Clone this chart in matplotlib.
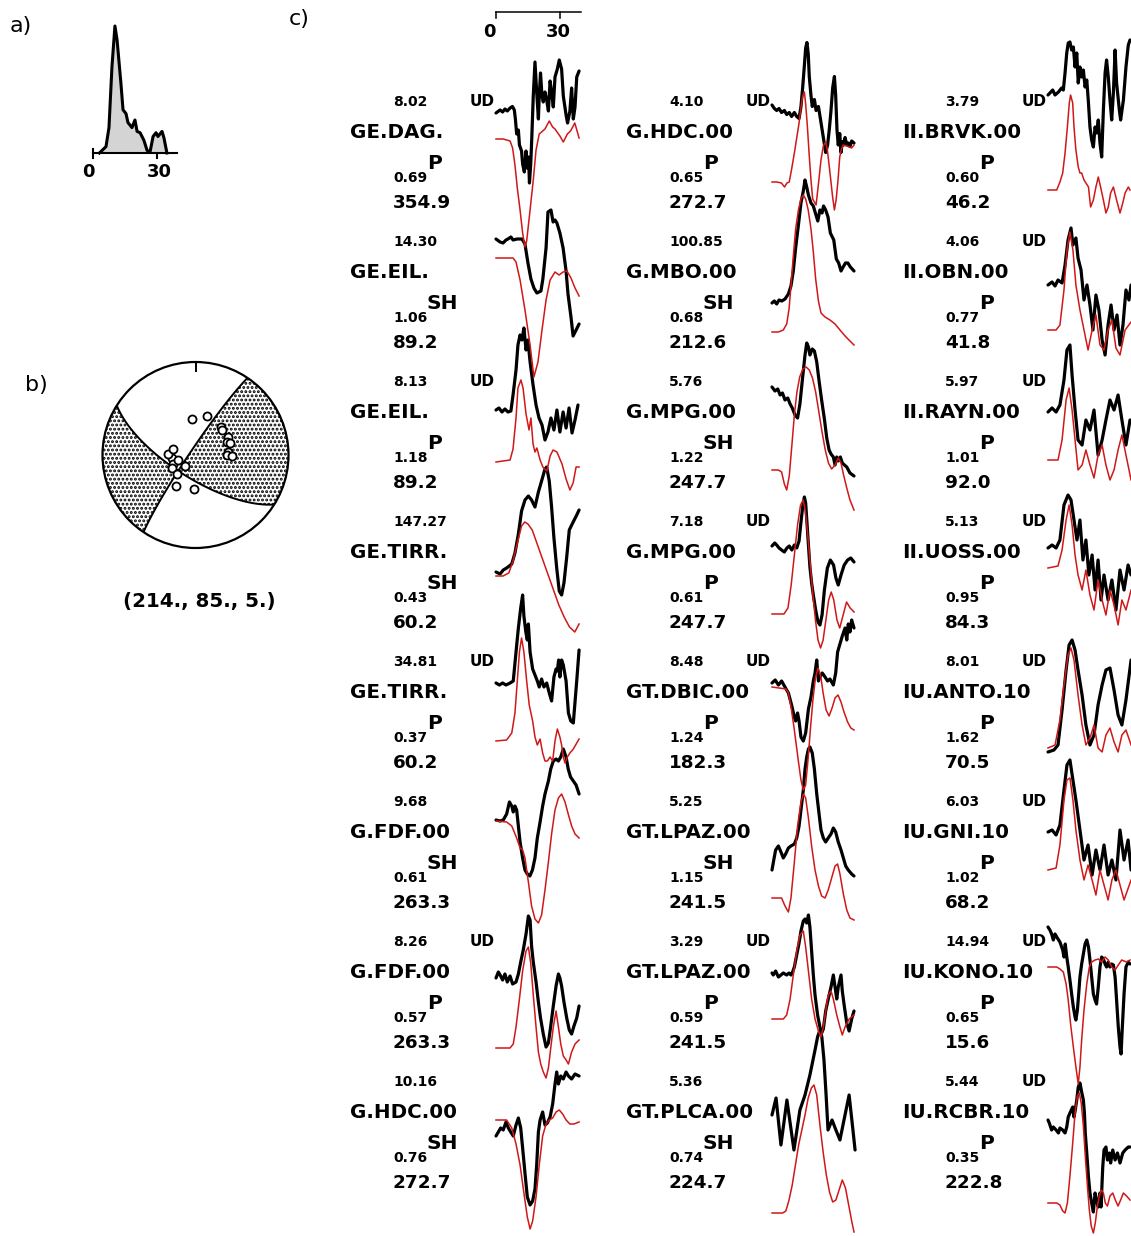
import numpy as np
import matplotlib.pyplot as plt
from matplotlib.patches import Circle

# ---------------- station table (panel c), column by column ----------------
stations = ["GE.DAG.", "GE.EIL.", "GE.EIL.", "GE.TIRR.", "GE.TIRR.", "G.FDF.00", "G.FDF.00", "G.HDC.00",
            "G.HDC.00", "G.MBO.00", "G.MPG.00", "G.MPG.00", "GT.DBIC.00", "GT.LPAZ.00", "GT.LPAZ.00", "GT.PLCA.00",
            "II.BRVK.00", "II.OBN.00", "II.RAYN.00", "II.UOSS.00", "IU.ANTO.10", "IU.GNI.10", "IU.KONO.10", "IU.RCBR.10"]
phases = ["P", "SH", "P", "SH", "P", "SH", "P", "SH",
          "P", "SH", "SH", "P", "P", "SH", "P", "SH",
          "P", "P", "P", "P", "P", "P", "P", "P"]
max_amp = ["8.02", "14.30", "8.13", "147.27", "34.81", "9.68", "8.26", "10.16",
           "4.10", "100.85", "5.76", "7.18", "8.48", "5.25", "3.29", "5.36",
           "3.79", "4.06", "5.97", "5.13", "8.01", "6.03", "14.94", "5.44"]
amp_ratio = ["0.69", "1.06", "1.18", "0.43", "0.37", "0.61", "0.57", "0.76",
             "0.65", "0.68", "1.22", "0.61", "1.24", "1.15", "0.59", "0.74",
             "0.60", "0.77", "1.01", "0.95", "1.62", "1.02", "0.65", "0.35"]
azimuth = ["354.9", "89.2", "89.2", "60.2", "60.2", "263.3", "263.3", "272.7",
           "272.7", "212.6", "247.7", "247.7", "182.3", "241.5", "241.5", "224.7",
           "46.2", "41.8", "92.0", "84.3", "70.5", "68.2", "15.6", "222.8"]

# observed (black) waveforms: time (s) and amplitude (display px, up positive)
obs_t = [
    [0,1.9,3.1,4.2,5.3,6.6,7.7,8.6,9.1,9.7,10.5,11,12,12.5,13.3,14.1,14.7,15.3,15.7,16.3,16.8,17.5,18.3,19.1,19.9,20.3,20.9,21.6,22.2,23,23.8,24.6,25.4,26.1,26.9,27.7,28.8,29.7,30.8,31.6,32.9,33.6,34.7,35.5,36.3,37.1,37.9,39],
    [0,1.9,3.3,4.7,5.6,7,8,9.9,12.2,13.6,15,16.4,17.8,19.2,21.1,22,23.5,24.4,25.8,26.8,27.7,28.6,30,31.5,32.9,33.8,35.2,36.2,37.6,39],
    [0,1.4,2.8,4.2,5.6,7,8,9.4,10.3,11.3,12.2,13.1,14.1,15,16,17.4,18.8,20.2,21.6,23,24.4,25.8,27.2,28.6,30,31.5,32.9,34.3,35.7,37.1,38.5],
    [0,1.9,3.4,5,7.4,8.9,10.5,12,13.6,15.2,16.7,18.3,19.9,21.4,23,23.8,25,26.1,27.2,28.5,29.7,30.8,31.9,33.2,34.4,36,37.9,39],
    [0,1.6,3.1,4.7,6.6,8.1,9.4,10.5,11.6,12.5,13.1,14,14.7,15.2,16,17.2,18.3,19.4,20.3,21.4,22.5,23.8,25,26.1,27.2,28.2,28.8,29.4,30,30.8,31.6,32.9,34,35.1,36.3,37.9,39],
    [0,1.9,3.4,5,6.3,7.4,8.1,8.9,9.7,10.5,11.3,12.5,13.6,14.7,15.9,17.1,18.3,19.4,20.7,21.9,23,24.6,25.7,26.9,28.2,29.3,30.4,31.6,32.9,33.9,35,36.3,37.6,39],
    [0,1.1,2.2,3.1,4.2,5.3,6.6,7.8,9.4,10.5,11.6,12.8,14.1,15.2,16,16.7,17.5,18.8,19.9,20.9,22.2,23.5,24.6,25.7,26.9,28.2,29.3,30,30.8,31.9,33.2,34.4,35.5,36.6,37.9,39],
    [0,1.1,2.2,3.4,4.7,5.8,6.9,8.1,9.4,10.5,11.6,12.5,13.6,14.7,16,17.2,18.3,19.1,19.9,20.7,21.9,23,24.1,25.4,26.6,27.7,28.5,29.3,30.4,31.6,32.9,34,35.5,37.1,39],
    [0,1.1,2.2,3.3,4.5,5.8,6.9,8.1,9.2,10.5,11.6,12.7,13.6,14.4,15.2,15.8,16.4,17,17.5,18.3,18.9,19.9,20.7,21.8,23,24.1,25.2,26.1,26.9,27.7,28.5,29.3,29.9,30.5,31.1,31.8,32.4,33,33.6,34.3,35.1,35.8,36.6,37.4,38.5],
    [0,1.1,2.2,3.3,4.6,6.1,7.7,8.9,10,11.1,12.4,13.6,14.7,15.5,16.3,17.1,18.3,19.4,20.5,21.5,22.5,23.5,24.2,25.2,26.3,27.4,29,30.2,31.3,32.4,33.4,34.5,35.6,36.8,38.5],
    [0,1.4,2.7,3.8,4.9,6.1,7.4,8.5,9.5,10.8,12,13.1,14.2,15.5,16.3,17.1,17.8,18.9,19.9,21,22.1,23.3,24.6,25.7,26.8,27.7,28.8,29.6,30.4,31.1,32.1,33,34,35.1,36.6,38.5],
    [0,1.3,2.2,3.3,4.5,5.8,7,8.1,9.3,10.5,11.6,12.7,13.6,14.4,15.2,15.8,16.4,17.1,17.8,18.6,19.4,20.5,21.6,22.5,23.5,24.6,26,27.4,28.9,30,31.1,32.4,33.9,35.5,37,38.5],
    [0,1.5,3,4.5,6.1,7.7,9.2,10.5,11.1,12,12.7,13.6,14.7,15.8,17.1,18.3,19.4,20.2,21,21.8,22.5,23.6,24.9,26.1,27.2,28.8,29.9,30.8,31.9,33,34.3,35.1,35.8,36.6,37.4,38.5],
    [0,1.0,1.7,3,4.2,5.3,6.4,7.7,8.9,10.5,11.6,12.7,13.6,14.7,15.5,16.3,17.1,17.8,18.9,19.9,21,22.1,23,24.1,25.2,26.4,27.7,28.8,29.9,31.1,32.4,33.5,34.6,35.8,37.4,38.5],
    [0,0.6,1.7,3,4.2,5.3,6.9,8,8.9,9.5,10.5,11.6,12.7,13.6,14.7,15.5,16.3,17.1,17.8,18.6,19.4,20.2,21.4,22.5,23.3,24.1,25.2,26.4,27.7,28.8,29.6,30.4,31.1,32.4,33,34,35.1,36.2,37.4,38.5],
    [0,1.9,4.2,7,10.3,13.1,15.5,17.8,20.2,21.4,22.5,23.4,24.4,25.4,26.3,28.2,30,31.9,33.8,36.2,38,39],
    [0,0.9,2.2,3.3,4.9,6.4,7.2,8,8.8,9.5,10.3,11.1,11.9,12.7,13.5,14.2,15,15.8,16.6,17.4,18.2,18.9,19.7,20.5,21.3,22.1,22.8,23.6,24.4,25.2,26,26.8,27.5,28.3,29.1,29.9,30.7,31.5,32.2,33.5,34.1,35.4,36.6,37.7,38.5],
    [0,1.9,3.3,4.7,6.6,8,9.4,10.8,11.7,13.1,14.1,15.5,16.9,18.3,19.7,21.1,22.5,23.9,25.4,26.8,28.2,29.6,31,32.4,33.8,35.2,36.6,38,39],
    [0,1.9,3.8,5.6,7.5,8.9,10.3,11.3,12.7,14.1,16,17.8,19.7,21.6,23.5,25.4,27.2,29.1,31,32.9,34.7,36.6,38.5],
    [0,1.9,3.8,5.6,7.5,9.4,10.8,12.2,13.6,15,16.4,17.8,19.2,20.7,22.1,23.5,24.9,26.3,28.2,30,31.9,33.8,35.7,37.6,39],
    [0,2.8,4.7,6.6,8.5,9.9,11.3,12.7,14.1,16,17.8,19.7,21.6,23.5,25.4,27.2,29.1,31,32.9,34.7,36.6,39],
    [0,1.9,3.8,5.6,7.5,8.9,10.3,11.7,13.1,15,16.9,18.8,20.7,22.5,24.4,26.3,28.2,30,31.9,33.8,35.7,37.6,39],
    [0,0.9,1.7,2.5,3.3,4.1,5.6,6.9,7.5,8.1,8.8,9.5,10.3,11.1,11.9,12.7,13.1,13.8,14.4,15,15.8,16.6,17.4,18.2,19,19.7,20.5,21.3,22.1,22.8,23.6,24.4,25.2,26,26.8,27.5,28.3,29.1,29.9,30.7,31.5,32.2,33,33.8,34.3,34.9,35.7,36.6,37.7,38.5],
    [0,0.6,1.7,2.5,3.8,4.9,5.6,6.9,8,8.8,9.5,10.3,11.6,12.2,12.8,13.5,14.2,15,15.8,16.6,17.1,17.5,18.2,19,19.7,20.5,21.3,22.1,22.8,23.6,24.4,24.9,25.7,26.3,27.2,27.9,28.8,29.4,30.4,31.5,32.6,33.8,35.1,36.2,37.7,38.5],
]
obs_a = [
    [0,3,1,4,2,5,6.5,3,-6,-21,-17,-32,-38,-51,-59,-38,-55,-44,-70,-51,-25,17,51,21,-6,17,40,17,11,21,13,2,32,21,6,36,44,53,44,17,-2,-10,2,25,-6,6,36,42],
    [0,-3,-4,-1,0,2,-1,0,0,-5,-24,-40,-49,-54,-52,-40,-9,27,29,17,19,16,6,-9,-32,-55,-78,-97,-91,-85],
    [0,2,-2,1,-2,-1,15,40,65,75,70,82,60,70,48,25,5,-8,-15,-30,-22,-8,-20,0,-22,-2,-18,2,-23,-10,5],
    [0,-2,2,4,8,19,38,61,72,76,72,65,80,91,103,105,91,65,34,4,-19,-23,-11,15,42,49,57,62],
    [0,-2,0,-2,0,2,31,55,75,88,67,51,43,59,31,14,8,2,-4,4,-4,0,-10,-18,6,14,12,23,6,23,18,2,-30,-38,-40,2,33],
    [0,-1,0,6,18,14,8,14,10,-6,-22,-38,-50,-54,-56,-50,-38,-18,-2,14,26,39,51,59,61,59,63,71,63,51,43,39,35,26],
    [0,6,2,-2,4,-4,2,-6,-4,4,16,28,44,62,58,32,16,-4,-24,-40,-56,-69,-65,-48,-28,-8,4,0,-8,-24,-40,-52,-56,-48,-40,-28],
    [0,4,8,6,14,8,4,0,11,18,8,-12,-37,-61,-69,-65,-53,-29,4,16,24,11,13,19,32,52,64,52,60,57,64,60,57,62,60],
    [0,-3.5,-5.5,-3.5,-7.5,-5.5,-9.5,-7.5,-11.5,-7.5,-11.5,-13.5,-1.5,17.5,39.5,57,62.5,51.5,28.5,9.5,-1.5,5.5,-5.5,-1.5,-17.5,-32.5,-47.5,-40,-24.5,-5.5,17.5,28.5,9.5,-24.5,-40,-28.5,-47.5,-36.5,-40,-32.5,-40,-38,-41.5,-36,-38],
    [0,2,-1,3,2,4,9,17,32,55,78,100,112,123,116,108,100,97,89,82,93,90,97,93,86,70,63,44,40,32,36,40,40,36,32],
    [0,-4,-2,-8,-6,-13,-11,-17,-21,-28,-31,-17,6,32,44,40,32,38,36,25,6,-13,-32,-51,-63,-67,-70,-78,-70,-74,-70,-76,-78,-80,-86,-89],
    [0,3,1,-2,-4,-6,-2,0,-4,1,-2,5,24,39,49,43,24,1,-21,-37,-49,-64,-76,-79,-69,-44,-22,-14,-19,-32,-39,-29,-19,-14,-12,-16],
    [0,3,-2,2,-4,-10,-22,-34,-38,-30,-38,-54,-58,-50,-26,-14,2,10,23,2,6,10,6,2,4,-2,10,31,39,47,55,43,59,51,63,55],
    [0,12,20,24,18,12,16,22,24,26,32,44,60,80,101,113,121,123,117,101,76,56,40,32,28,32,36,42,38,28,20,12,4,0,-4,-6],
    [0,-2,2,-4,-2,0,-2,0,-2,0,6,18,30,42,52,54,50,58,46,22,-2,-22,-42,-54,-60,-56,-38,-26,-14,-2,-14,-26,-14,-2,-18,-34,-50,-58,-46,-38],
    [0,17,-30,15,-35,5,20,40,65,78,85,78,55,20,-15,-5,-15,-25,-5,20,-15,-35],
    [0,2,5,0,3,7,5,22,42,52,53,45,48,28,42,12,28,18,25,8,15,-5,-32,-45,-52,-32,-38,-25,-48,-62,-15,22,35,18,-5,-25,2,45,12,-15,-25,-5,28,50,55],
    [0,3,-1,5,2,20,45,57,40,47,27,15,-15,0,-20,-45,-10,-25,-55,-70,-40,-20,-45,-30,-60,-40,-5,-15,0],
    [0,4,0,7,32,62,67,37,2,-28,-33,-8,-18,2,-43,-28,-8,12,2,17,-8,-33,-8],
    [0,3,0,8,43,53,48,28,8,28,-12,8,-27,-7,-42,-12,-52,-27,-52,-32,-62,-22,-42,-17,-27],
    [0,2,7,42,82,107,112,102,82,57,27,7,17,47,67,82,84,62,37,27,52,92],
    [0,2,-3,7,42,67,72,52,32,2,-28,-13,-43,-18,-38,-13,-43,-28,-48,2,-28,-8,-38],
    [0,-3,-7,-13,-7,-10,-15,-23,-30,-17,-30,-40,-53,-67,-80,-90,-93,-83,-67,-50,-37,-27,-17,-13,-20,-33,-50,-67,-73,-77,-60,-40,-30,-32,-37,-40,-35,-40,-37,-38,-50,-73,-100,-120,-127,-100,-67,-40,-35,-37],
    [0,-3,-10,-7,-10,-13,-8,-10,-13,-7,3,7,13,3,10,20,33,37,28,20,7,-13,-33,-57,-73,-83,-92,-73,-80,-87,-73,-87,-47,-30,-27,-40,-33,-43,-30,-40,-33,-43,-33,-30,-27,-27],
]

# synthetic (red) waveforms
syn_t = [
    [0,3.4,6.6,7.8,8.9,10,11.3,12.5,13.6,14.4,16,17.5,18.8,20.3,23,25,26.6,27.7,30,31.6,33.5,35,37,39],
    [0,8,9.4,11.3,13.6,16,17.8,19.7,21.6,23.5,25.4,27.7,29.6,31.5,33.3,35.2,37.1,39],
    [0,6.6,8,9.4,10.3,11.7,12.7,14.1,15.5,16.4,17.4,18.3,19.2,20.7,22,23.9,25.4,26.8,28.6,31,32.9,34.7,36.2,37.6,39],
    [0,3.3,6,8,10,12,13.5,15,17,19.5,22,24.5,27,29.5,32,34.5,37,39],
    [0,5,7.4,8.9,10,11,12,13.1,14.4,15.6,17.2,18.3,19.4,20.7,21.9,23,24.1,25.4,26.6,27.7,28.8,30,30.8,31.6,32.4,33.5,34.7,36.3,37.9,39],
    [0,5,7.4,9.7,11.3,12.5,13.6,15.2,16.7,18.3,19.9,21.4,23,24.6,26.1,27.7,29.3,30.8,32.4,33.9,35.5,37.1,39],
    [0,6.6,8.1,9.4,11,12.5,14.1,15.2,16.3,17.5,18.8,19.9,21,22.2,23.5,24.6,25.7,26.9,28.2,29.3,30.4,31.6,32.9,34,35.5,37.1,39],
    [0,5,7.4,9.4,11.3,13.1,14.7,16,17.2,18.8,20.3,21.9,23.5,25,26.6,28.2,29.7,31.3,32.9,34.7,36.6,39],
    [0,2.3,4.4,5.9,7,8.1,9.3,10.5,11.6,12.7,13.6,14.4,15.2,15.8,16.6,17.4,18.3,19.1,20.7,22,23,24.1,25.2,26,26.8,27.6,28.4,29.3,30.1,31,31.8,32.6,33.4,35.1,37.4,38.5],
    [0,3,5.3,6.9,8,8.9,10,11.1,12.4,13.6,14.7,15.8,17,18.3,19.4,20.5,21.8,23,24.9,27.2,29.6,31.9,34.3,36.6,38.5],
    [0,3,4.5,5.8,6.9,8.1,9.3,10.5,11.7,13,14.5,16,17.5,19,20.5,22,23.5,25,26.5,28,29.6,31.1,32.4,33.5,35.1,36.6,38.5],
    [0,5.6,7.5,9,10.5,12,13.4,14.6,15.6,16.8,18,19.2,20.4,21.6,22.8,24,25.3,26.6,27.8,29,30.5,31.8,33.4,35,36.7,38.5],
    [0,6.6,7.7,9,10.3,11.4,12.5,13.6,14.7,15.8,16.9,18,19.2,20.4,21.6,22.8,24,25.4,26.8,28.2,29.6,31,32.4,33.8,35.5,37,38.5],
    [0,4.5,6.1,7.7,8.9,10.5,12,13.6,14.7,15.8,17.1,18.6,20.2,21.8,23.3,24.9,26.4,28,29.6,30.8,31.9,33.5,35.1,36.6,38.5],
    [0,5.3,6.9,8.5,10,11.6,13.1,14.7,15.8,17.1,18.6,20.2,21.8,23,24.1,25.2,26.4,27.7,28.8,30.4,31.9,33,34.3,36.2,38.5],
    [0,5,6.5,8,9.5,11,12.5,14,15.5,17,18.5,19.7,21,22.5,24,25.5,27,28.5,30,31.5,33,34.5,36,37.5,38.5],
    [0,4.1,5.6,6.9,8,9.1,10,10.6,11.6,12.2,13.1,14.2,15,15.8,16.9,17.8,19,20,21.3,22.5,23.6,24.7,26,27.2,28.3,29.4,30.7,32.2,33.8,35.1,36.2,37.7,38.5],
    [0,3.8,5.6,7.5,8.9,10.3,11.7,13.1,15,16.9,18.8,20.7,22.5,24.4,26.3,28.2,30,31.9,33.8,36.2,39],
    [0,4.7,6.6,8.5,9.9,11.3,12.7,14.1,16,17.8,19.7,21.6,23.5,25.4,27.2,29.1,31,32.9,34.7,36.6,39],
    [0,4.7,6.6,8.5,9.9,11.3,12.7,14.1,16,17.8,19.7,21.6,23.5,25.4,27.2,29.1,31,32.9,34.7,36.6,39],
    [0,3.3,5.6,7.5,9.4,10.8,12.2,14.1,16,17.8,19.7,21.6,23.5,25.4,27.2,29.1,31,32.9,34.7,36.6,39],
    [0,3.8,5.6,7.5,8.9,10.3,11.7,13.1,15,16.9,18.8,20.7,22.5,24.4,26.3,28.2,30,31.9,33.8,35.7,39],
    [0,4.1,5.6,7.2,8.5,9.5,10.6,11.9,13.1,14.2,15,15.8,16.9,18.2,19.4,20.5,22.1,23.6,25.2,26.8,28.3,29.9,31.5,33,34.6,36.9,38.5],
    [0,4.1,5.6,6.9,8,9.1,10.3,11.6,12.7,13.8,14.7,15.6,16.6,17.5,18.5,19.4,20.3,21.3,22.2,23.2,24.1,25,26,26.9,27.9,29.1,30.4,31.6,32.9,34.1,35.4,36.9,38.5],
]
syn_a = [
    [0,0,-2,-9,-26,-49,-71,-94,-108,-102,-71,-41,-11,5,10,18,12,10,3,-3,5,8,16,1],
    [0,0,-4,-22,-52,-87,-119,-104,-72,-42,-22,-14,-17,-14,-13,-20,-30,-38],
    [0,2,13,44,74,82,74,48,32,44,18,10,14,2,-5,-9,6,12,10,-2,-17,-28,-21,-5,-5],
    [0,0,3,15,33,50,54,52,46,31,16,1,-14,-29,-41,-51,-56,-48],
    [0,1,8,28,60,89,103,89,60,36,20,4,-4,2,-12,-20,-20,-16,-20,0,12,4,-4,-16,-22,-16,-12,-8,-2,2],
    [0,-1,-5,-17,-27,-29,-37,-61,-85,-98,-102,-94,-69,-41,-13,11,23,27,19,7,-5,-13,-17],
    [0,0,4,21,49,77,97,101,85,53,21,-4,-16,-24,-30,-20,0,21,37,21,4,-8,-12,-16,-4,4,8],
    [0,0,-8,-24,-45,-73,-97,-109,-101,-77,-45,-16,-4,0,2,8,10,6,0,-4,-4,-2],
    [0,0,-1,-5,-1,0,14,29,44,59,75,86,90,78,56,29,2,-17,-23,2,22,36,40,32,17,2,-14,-28,-18,2,25,33,37,36,34,37],
    [0,0,2,8,23,46,76,103,122,133,137,133,122,103,80,53,31,19,15,12,8,2,-4,-9,-13],
    [0,0,-2,-14,-20,-6,24,55,78,93,101,103,100,92,78,58,38,20,7,1,5,12,7,-4,-18,-30,-40],
    [0,0,6,29,59,89,109,114,104,79,49,19,-6,-26,-34,-26,-6,14,22,14,-6,-14,-1,12,6,2],
    [0,-2,-6,-21,-40,-58,-76,-93,-103,-98,-73,-43,-13,9,19,12,-6,-23,-29,-21,-11,-8,-15,-25,-35,-41,-43],
    [0,0,-8,-14,0,36,72,96,104,100,80,52,28,12,2,0,8,20,32,34,24,4,-12,-20,-22],
    [0,0,4,20,44,68,84,88,72,48,20,0,-12,-18,-8,8,24,28,20,4,-8,-16,-8,0,4],
    [0,0,2,13,28,48,68,83,98,115,125,128,118,88,61,38,21,11,13,23,33,25,8,-9,-19],
    [0,0,8,17,37,63,87,95,87,63,40,23,17,17,10,7,3,-17,-10,3,13,3,-10,-23,-17,-3,3,-10,-23,-13,-3,3,0],
    [0,0,5,40,80,98,80,45,20,0,-20,0,15,-15,-20,0,10,-18,-25,0,8],
    [0,0,20,60,72,50,20,-10,-5,10,-5,-18,5,15,-5,-20,-10,10,25,5,-20],
    [0,2,18,48,63,43,13,-7,-22,-2,-27,-42,-12,-32,-47,-22,-37,-57,-32,-42,-22],
    [0,3,28,63,93,100,88,53,23,3,10,23,0,-4,13,20,6,-4,13,18,3],
    [0,2,25,70,90,92,70,40,10,-10,5,-10,-25,0,-15,-30,-10,0,-15,-30,-10],
    [0,0,-2,-5,-17,-33,-57,-80,-100,-117,-100,-73,-43,-17,0,5,7,8,5,10,7,0,-3,2,7,5,7],
    [0,0,-2,-8,-10,0,27,60,90,107,110,100,77,47,17,-7,-23,-30,-20,-3,7,13,10,0,-3,7,10,3,-3,3,10,7,3],
]

# panel a: source time function (s, normalised)
stf_t = [3.0,6.1,7.5,8.9,10.3,11.3,13.1,14.1,15.5,16.4,18.3,19.7,20.7,22.1,23.9,25.4,26.8,28.2,29.6,30.5,32.4,33.3,34.7]
stf_a = [0.0,0.05,0.20,0.68,1.0,0.89,0.55,0.34,0.31,0.24,0.20,0.26,0.17,0.16,0.10,0.02,0.01,0.13,0.16,0.13,0.17,0.12,0.0]

# panel b: mechanism and stations on the focal sphere
mech_label = "(214., 85., 5.)"
mech_drawn = (214.0, 85.0, 20.0)   # strike/dip/rake that reproduces the plotted nodal lines
bb_az = [354.9, 15.6, 41.8, 46.2, 60.2, 68.2, 70.5, 84.3, 89.2, 92.0,
         263.3, 272.7, 247.7, 241.5, 224.7, 212.6, 182.3, 222.8, 255.0, 285.0]
bb_r = [0.39, 0.44, 0.41, 0.39, 0.40, 0.37, 0.39, 0.35, 0.34, 0.39,
        0.25, 0.30, 0.26, 0.29, 0.29, 0.39, 0.37, 0.16, 0.20, 0.25]

# ---------------- layout (pixels) ----------------
W, H = 1131, 1236
PX_PER_S = 2.13
COL_DX, ROW_DY, ROW_Y0 = 276, 140, 100
NAME_X, NUM_X, PHASE_X, UD_X, TRACE_X0 = 350, 393, 427, 470, 496
obs_off = [13, -1, 30, 52, 23, 20, 38, 56,
           5, 63, 7, 26, 23, 70, 33, 35,
           -5, 45, 32, 28, 92, 32, -13, 40]
syn_off = [39, 18, 82, 56, 81, 21, 108, 40,
           82, 92, 90, 94, 27, 98, 79, 133,
           90, 90, 80, 48, 88, 70, 27, 123]
RED = "#d01818"
BOLD = dict(family="DejaVu Sans", weight="bold", color="black")

fig = plt.figure(figsize=(W / 100, H / 100), dpi=100)
ax = fig.add_axes([0, 0, 1, 1])
ax.set_xlim(0, W)
ax.set_ylim(H, 0)
ax.axis("off")

# panel labels
for lab, x, y in [("a)", 10, 26), ("b)", 25, 385), ("c)", 289, 19)]:
    ax.text(x, y, lab, fontsize=16, family="DejaVu Sans", va="center", ha="left")

# ---- panel a ----
SX0, SY0, SAMP = 93, 153, 127
sx = SX0 + np.array(stf_t) * PX_PER_S
sy = SY0 - np.array(stf_a) * SAMP
ax.fill_between(sx, sy, SY0, color="#d4d4d4", lw=0, zorder=1)
ax.plot(sx, sy, color="black", lw=2.2, solid_joinstyle="round", zorder=2)
ax.plot([SX0, SX0 + 39.4 * PX_PER_S], [SY0, SY0], color="black", lw=1.5)
ax.plot([SX0, SX0], [SY0 - 4, SY0 + 5], color="black", lw=1.5)
ax.plot([SX0 + 30 * PX_PER_S] * 2, [SY0, SY0 + 5], color="black", lw=1.5)
ax.text(SX0 - 5, SY0 + 24, "0", fontsize=13, ha="center", va="baseline", **BOLD)
ax.text(SX0 + 30 * PX_PER_S + 2, SY0 + 24, "30", fontsize=13, ha="center", va="baseline", **BOLD)


# ---- panel b: beach ball ----
def p_radiation(strike, dip, rake, az, inc):
    s, d, r = np.radians([strike, dip, rake])
    n = [-np.sin(d) * np.sin(s), np.sin(d) * np.cos(s), -np.cos(d)]
    u = [np.cos(r) * np.cos(s) + np.cos(d) * np.sin(r) * np.sin(s),
         np.cos(r) * np.sin(s) - np.cos(d) * np.sin(r) * np.cos(s),
         -np.sin(d) * np.sin(r)]
    g = [np.sin(inc) * np.cos(az), np.sin(inc) * np.sin(az), np.cos(inc)]
    gn = sum(gi * ni for gi, ni in zip(g, n))
    gu = sum(gi * ui for gi, ui in zip(g, u))
    return gn * gu


BCX, BCY, BR = 195.5, 455, 93
gx = np.linspace(-1, 1, 601)
GX, GY = np.meshgrid(gx, gx)
rr = np.hypot(GX, GY)
inc = 2 * np.arcsin(np.clip(rr / np.sqrt(2), 0, 1))
amp = p_radiation(*mech_drawn, np.arctan2(GX, GY), inc)
amp[rr > 1.0] = np.nan
PX, PY = BCX + GX * BR, BCY - GY * BR
plt.rcParams["hatch.linewidth"] = 1.4
ax.contourf(PX, PY, amp, levels=[0, np.nanmax(amp) + 1], colors="none", hatches=["...."], zorder=1)
ax.contour(PX, PY, amp, levels=[0], colors="black", linewidths=1.4, zorder=2)
ax.add_patch(Circle((BCX, BCY), BR, fill=False, lw=1.6, color="black", zorder=3))
ax.plot([BCX, BCX], [BCY - BR, BCY - BR + 9], color="black", lw=1.4)
baz = np.radians(bb_az)
ax.plot(BCX + BR * np.array(bb_r) * np.sin(baz), BCY - BR * np.array(bb_r) * np.cos(baz),
        "o", ms=5.8, mfc="white", mec="black", mew=1.3, zorder=4)
ax.text(BCX + 4, 607, mech_label, fontsize=14.3, ha="center", va="baseline", **BOLD)

# ---- panel c: time scale bar ----
tb = TRACE_X0 + np.array([0, 40]) * PX_PER_S
ax.plot(tb, [12, 12], color="black", lw=1.1)
for tk in [0, 30]:
    xk = TRACE_X0 + tk * PX_PER_S
    ax.plot([xk, xk], [12, 18], color="black", lw=1.1)
ax.text(TRACE_X0 - 7, 37, "0", fontsize=13, ha="center", va="baseline", **BOLD)
ax.text(TRACE_X0 + 30 * PX_PER_S - 2, 37, "30", fontsize=13, ha="center", va="baseline", **BOLD)

# ---- panel c: traces and labels ----
for k in range(len(stations)):
    col, row = divmod(k, 8)
    dx = col * COL_DX
    yb = ROW_Y0 + row * ROW_DY
    x0 = TRACE_X0 + dx
    ax.plot(x0 + np.array(obs_t[k]) * PX_PER_S, yb + obs_off[k] - np.array(obs_a[k]),
            color="black", lw=2.3, solid_joinstyle="round", solid_capstyle="round", zorder=3)
    ax.plot(x0 + np.array(syn_t[k]) * PX_PER_S, yb + syn_off[k] - np.array(syn_a[k]),
            color=RED, lw=1.1, zorder=4)
    ax.text(NUM_X + dx, yb + 6, max_amp[k], fontsize=10, va="baseline", **BOLD)
    if phases[k] == "P":
        ax.text(UD_X + dx, yb + 6, "UD", fontsize=11, va="baseline", **BOLD)
    ax.text(NAME_X + dx, yb + 38, stations[k], fontsize=14.3, va="baseline", **BOLD)
    ax.text(PHASE_X + dx, yb + 69, phases[k], fontsize=14.5, va="baseline", **BOLD)
    ax.text(NUM_X + dx, yb + 82, amp_ratio[k], fontsize=10, va="baseline", **BOLD)
    ax.text(NUM_X + dx, yb + 108, azimuth[k], fontsize=13.2, va="baseline", **BOLD)

fig.savefig("out.png", dpi=100)
